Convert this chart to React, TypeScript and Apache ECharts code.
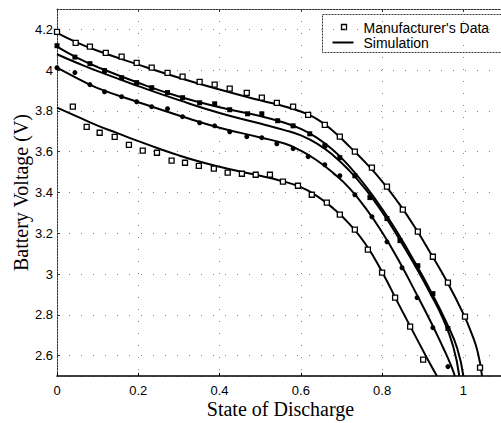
import React, { useEffect, useRef } from "react";
import * as echarts from "echarts";

// Simulated discharge curves, [state of discharge, battery voltage]
const simCurve1 = [[0,4.183],[0.05,4.135],[0.1,4.095],[0.2,4.027],[0.3,3.963],[0.4,3.905],[0.5,3.852],[0.56,3.822],[0.6,3.797],[0.64,3.76],[0.68,3.70],[0.72,3.625],[0.76,3.545],[0.8,3.455],[0.84,3.35],[0.88,3.232],[0.92,3.10],[0.96,2.962],[1.0,2.805],[1.02,2.71],[1.035,2.62],[1.046,2.5]];
const simCurve2 = [[0,4.115],[0.05,4.06],[0.1,4.015],[0.2,3.938],[0.3,3.871],[0.4,3.818],[0.5,3.775],[0.56,3.742],[0.6,3.712],[0.64,3.668],[0.68,3.607],[0.72,3.527],[0.76,3.43],[0.8,3.32],[0.84,3.196],[0.88,3.06],[0.92,2.915],[0.96,2.755],[0.985,2.635],[1.0,2.5]];
const simCurve3 = [[0,4.078],[0.05,4.035],[0.1,3.995],[0.2,3.922],[0.3,3.853],[0.4,3.79],[0.5,3.738],[0.56,3.706],[0.6,3.68],[0.64,3.64],[0.68,3.582],[0.72,3.506],[0.76,3.414],[0.8,3.305],[0.84,3.18],[0.88,3.045],[0.92,2.9],[0.95,2.78],[0.975,2.645],[0.99,2.5]];
const simCurve4 = [[0,4.012],[0.05,3.96],[0.1,3.912],[0.2,3.843],[0.3,3.778],[0.4,3.718],[0.5,3.67],[0.56,3.64],[0.6,3.605],[0.64,3.557],[0.68,3.495],[0.72,3.42],[0.76,3.322],[0.8,3.205],[0.84,3.07],[0.88,2.92],[0.92,2.765],[0.95,2.64],[0.97,2.55],[0.979,2.5]];
const simCurve5 = [[0,3.816],[0.05,3.772],[0.1,3.728],[0.15,3.69],[0.2,3.652],[0.25,3.616],[0.3,3.582],[0.35,3.552],[0.4,3.526],[0.45,3.503],[0.5,3.482],[0.55,3.458],[0.6,3.426],[0.64,3.382],[0.68,3.322],[0.72,3.245],[0.76,3.145],[0.8,3.01],[0.84,2.855],[0.88,2.703],[0.91,2.59],[0.935,2.5]];

// Manufacturer's measured points
const mfgData1 = [[0,4.188],[0.046,4.134],[0.081,4.115],[0.12,4.085],[0.159,4.066],[0.196,4.036],[0.233,4.012],[0.272,3.987],[0.309,3.968],[0.351,3.943],[0.388,3.929],[0.425,3.909],[0.467,3.889],[0.504,3.865],[0.541,3.84],[0.581,3.821],[0.618,3.781],[0.659,3.732],[0.696,3.674],[0.733,3.6],[0.775,3.522],[0.812,3.429],[0.851,3.316],[0.888,3.208],[0.925,3.085],[0.962,2.958],[1.004,2.791],[1.041,2.541]];
const mfgData2 = [[0,4.12],[0.044,4.064],[0.081,4.032],[0.117,3.998],[0.159,3.963],[0.196,3.939],[0.233,3.914],[0.272,3.89],[0.309,3.865],[0.351,3.84],[0.388,3.835],[0.425,3.806],[0.469,3.786],[0.504,3.786],[0.543,3.752],[0.581,3.727],[0.622,3.688],[0.659,3.629],[0.696,3.571],[0.733,3.482],[0.77,3.375],[0.812,3.272],[0.844,3.164],[0.888,3.041],[0.925,2.904],[0.962,2.733]];
const mfgData4 = [[0,4.012],[0.044,3.988],[0.081,3.929],[0.117,3.894],[0.159,3.87],[0.196,3.845],[0.233,3.821],[0.272,3.811],[0.309,3.772],[0.351,3.742],[0.388,3.727],[0.425,3.698],[0.467,3.674],[0.504,3.669],[0.541,3.639],[0.581,3.615],[0.618,3.576],[0.659,3.536],[0.696,3.482],[0.733,3.389],[0.775,3.281],[0.812,3.158],[0.849,3.031],[0.886,2.884],[0.925,2.737],[0.962,2.546]];
const mfgData5 = [[0.039,3.821],[0.073,3.722],[0.105,3.693],[0.142,3.673],[0.177,3.634],[0.211,3.605],[0.246,3.595],[0.282,3.556],[0.315,3.546],[0.349,3.531],[0.386,3.517],[0.42,3.497],[0.455,3.492],[0.489,3.487],[0.524,3.487],[0.556,3.453],[0.593,3.433],[0.627,3.389],[0.664,3.35],[0.696,3.291],[0.733,3.218],[0.765,3.12],[0.8,3.007],[0.832,2.884],[0.869,2.742],[0.901,2.58]];

const legendLabels = ["Manufacturer's Data", "Simulation"];

const SERIF = "'Liberation Serif', 'DejaVu Serif', serif";
const SANS = "'Liberation Sans', Arial, sans-serif";

export default function App() {
  const ref = useRef<HTMLDivElement>(null);

  useEffect(() => {
    if (!ref.current) return;
    const chart = echarts.init(ref.current, null, { renderer: "svg" });

    const simSeries = [simCurve1, simCurve2, simCurve3, simCurve4, simCurve5].map((d) => ({
      type: "line",
      data: d,
      smooth: 0.5,
      symbol: "none",
      lineStyle: { color: "#000", width: 2 },
      z: 2,
    }));

    const openSquare = { color: "#fff", borderColor: "#000", borderWidth: 1.3, opacity: 1 };
    const filled = { color: "#000", borderColor: "#000", borderWidth: 0, opacity: 1 };

    const dataSeries = [
      { d: mfgData1, sym: "rect", size: 5, st: openSquare },
      { d: mfgData2, sym: "rect", size: 5, st: filled },
      { d: mfgData4, sym: "circle", size: 5, st: filled },
      { d: mfgData5, sym: "rect", size: 5, st: openSquare },
    ].map((s) => ({
      type: "scatter",
      data: s.d,
      symbol: s.sym,
      symbolSize: s.size,
      itemStyle: s.st,
      z: 3,
    }));

    chart.setOption({
      animation: false,
      backgroundColor: "#fff",
      grid: { left: 57, top: 9, width: 447, height: 367, outerBoundsMode: "none", containLabel: false },
      xAxis: [
        {
          type: "value",
          min: 0,
          max: 1.1,
          interval: 0.2,
          name: "State of Discharge",
          nameLocation: "middle",
          nameGap: 23,
          nameMoveOverlap: false,
          nameTextStyle: { fontFamily: SERIF, fontSize: 20, color: "#000" },
          axisLine: { lineStyle: { color: "#000", width: 1.5 } },
          axisTick: { inside: true, length: 3, lineStyle: { color: "#000" } },
          axisLabel: { fontFamily: SANS, fontSize: 13, color: "#000", margin: 8, showMaxLabel: false },
          splitLine: { show: true, lineStyle: { color: "#888", width: 1, type: [1, 11] } },
        },
        {
          type: "value",
          position: "top",
          min: 0,
          max: 1.1,
          interval: 0.2,
          axisLine: { show: true, lineStyle: { color: "#333", width: 1, type: [2, 1] } },
          axisTick: { inside: true, length: 3, lineStyle: { color: "#333" } },
          axisLabel: { show: false },
          splitLine: { show: false },
        },
      ],
      yAxis: {
        type: "value",
        min: 2.5,
        max: 4.3,
        splitNumber: 9,
        name: "Battery Voltage (V)",
        nameLocation: "middle",
        nameGap: 26,
        nameMoveOverlap: false,
        nameTextStyle: { fontFamily: SERIF, fontSize: 20, color: "#000" },
        axisLine: { show: true, lineStyle: { color: "#333", width: 1, type: [2, 1] } },
        axisTick: { show: true, inside: true, length: 3, lineStyle: { color: "#333" } },
        axisLabel: { fontFamily: SANS, fontSize: 13, color: "#000", margin: 4, showMinLabel: false, showMaxLabel: false },
        splitLine: { show: true, lineStyle: { color: "#888", width: 1, type: [1, 11] } },
      },
      series: [...simSeries, ...dataSeries],
      graphic: [
        {
          type: "group",
          left: 322,
          top: 14,
          children: [
            {
              type: "rect",
              shape: { x: 0, y: 0, width: 190, height: 38 },
              style: { fill: "#fff", stroke: "#333", lineWidth: 1, lineDash: [2, 1] },
            },
            {
              type: "rect",
              shape: { x: 19, y: 10, width: 5, height: 5 },
              style: { fill: "#fff", stroke: "#000", lineWidth: 1.3 },
            },
            {
              type: "line",
              shape: { x1: 10, y1: 28, x2: 31, y2: 28 },
              style: { stroke: "#000", lineWidth: 2 },
            },
            {
              type: "text",
              x: 41,
              y: 13,
              style: { text: legendLabels[0], font: `14px ${SANS}`, fill: "#000", textVerticalAlign: "middle" },
            },
            {
              type: "text",
              x: 41,
              y: 28,
              style: { text: legendLabels[1], font: `14px ${SANS}`, fill: "#000", textVerticalAlign: "middle" },
            },
          ],
        },
      ],
    });

    return () => chart.dispose();
  }, []);

  return (
    <div style={{ position: "absolute", left: 0, top: 0, width: 501, height: 423, overflow: "hidden" }}>
      <div ref={ref} style={{ width: 501, height: 423 }} />
    </div>
  );
}
